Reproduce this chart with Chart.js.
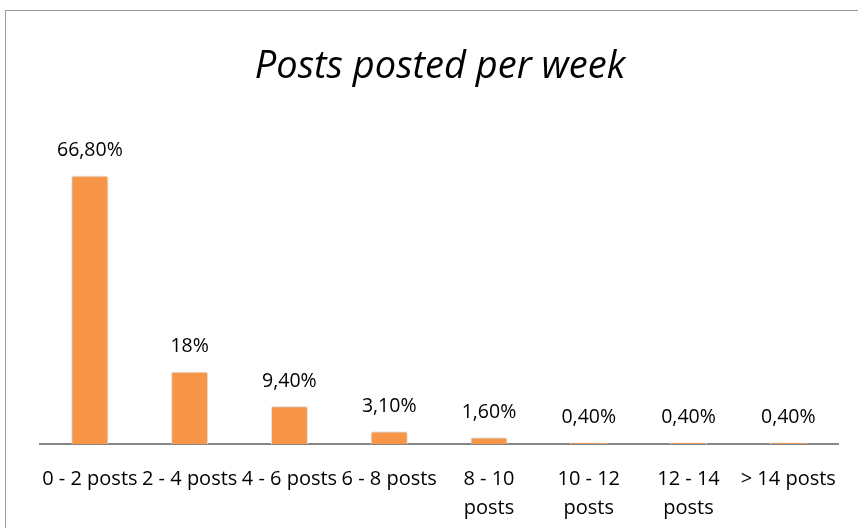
<!DOCTYPE html>
<html lang="en">
<head>
    <meta charset="UTF-8">
    <title>Posts posted per week</title>
    <script src="https://cdn.jsdelivr.net/npm/chart.js"></script>
    <style>
        body {
            margin: 0;
            padding: 0;
            background: white;
            overflow: hidden;
        }
        #frame {
            position: absolute;
            left: 5px;
            top: 10px;
            width: 900px;
            height: 600px;
            border: 1px solid #9a9a9a;
        }
        #chart-container {
            position: absolute;
            left: 0;
            top: 0;
            width: 858px;
            height: 528px;
        }
    </style>
</head>
<body>
    <div id="frame"></div>
    <div id="chart-container">
        <canvas id="posts-chart" width="858" height="528"></canvas>
    </div>

    <script>
        var categories = ['0 - 2 posts', '2 - 4 posts', '4 - 6 posts', '6 - 8 posts',
                          ['8 - 10', 'posts'], ['10 - 12', 'posts'], ['12 - 14', 'posts'], '> 14 posts'];
        var shares = [66.8, 18, 9.4, 3.1, 1.6, 0.4, 0.4, 0.4];
        var shareLabels = ['66,80%', '18%', '9,40%', '3,10%', '1,60%', '0,40%', '0,40%', '0,40%'];

        var fontFamily = "'Open Sans', 'Liberation Sans', sans-serif";

        // soft shadow around the bars, like the office chart
        var barShadow = {
            id: 'barShadow',
            beforeDatasetDraw: function (chart) {
                var ctx = chart.ctx;
                ctx.save();
                ctx.shadowColor = 'rgba(0,0,0,0.28)';
                ctx.shadowBlur = 4;
            },
            afterDatasetDraw: function (chart) {
                chart.ctx.restore();
            }
        };

        // value labels above each bar
        var valueLabels = {
            id: 'valueLabels',
            afterDatasetsDraw: function (chart) {
                var ctx = chart.ctx;
                var meta = chart.getDatasetMeta(0);
                ctx.save();
                ctx.font = '19.5px ' + fontFamily;
                ctx.fillStyle = '#000';
                ctx.textAlign = 'center';
                ctx.textBaseline = 'middle';
                meta.data.forEach(function (bar, i) {
                    ctx.fillText(shareLabels[i], bar.x, bar.y - 25);
                });
                ctx.restore();
            }
        };

        var ctx = document.getElementById('posts-chart').getContext('2d');
        new Chart(ctx, {
            type: 'bar',
            data: {
                labels: categories,
                datasets: [{
                    data: shares,
                    backgroundColor: '#F79646',
                    borderColor: '#ffffff',
                    borderWidth: 1,
                    categoryPercentage: 1,
                    barPercentage: 0.37
                }]
            },
            options: {
                responsive: false,
                animation: false,
                layout: {
                    padding: { left: 40, right: 18, top: 44, bottom: -16 }
                },
                plugins: {
                    legend: { display: false },
                    tooltip: { enabled: false },
                    title: {
                        display: true,
                        text: 'Posts posted per week',
                        color: '#000',
                        font: { family: fontFamily, size: 38, style: 'italic', weight: 'normal', lineHeight: 1.2 },
                        padding: { top: 0, bottom: 33 }
                    }
                },
                scales: {
                    x: {
                        grid: { display: false, drawTicks: false },
                        border: { display: true, color: '#868686', width: 2 },
                        ticks: {
                            color: '#000',
                            autoSkip: false,
                            maxRotation: 0,
                            padding: 21,
                            font: { family: fontFamily, size: 20, lineHeight: 1.45 }
                        }
                    },
                    y: {
                        display: false,
                        min: 0,
                        max: 80
                    }
                }
            },
            plugins: [barShadow, valueLabels]
        });
    </script>
</body>
</html>
